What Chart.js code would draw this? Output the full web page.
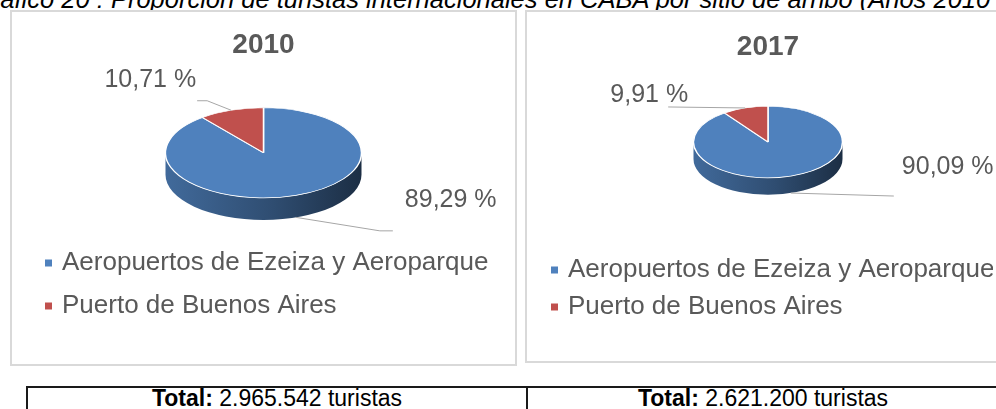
<!DOCTYPE html>
<html>
<head>
<meta charset="utf-8">
<script src="https://cdn.jsdelivr.net/npm/chart.js@4.4.1/dist/chart.umd.min.js"></script>
<style>
  body { margin: 0; width: 996px; height: 409px; overflow: hidden; background: #fff; position: relative;
         font-family: "Liberation Sans", Arial, sans-serif; }
  .caption { position: absolute; left: -28px; top: -13px; font-size: 25.5px; line-height: 25px;
             font-style: italic; color: #000; white-space: nowrap; }
  .panel { position: absolute; top: 10px; border: 2px solid #d9d9d9; box-sizing: border-box; background: #fff; }
  #p2010 { left: 10px; width: 507px; height: 356px; }
  #p2017 { left: 525px; width: 486px; height: 353px; }
  .panel canvas { display: block; }
  .totals { position: absolute; left: 26px; top: 386px; }
  .cell { position: absolute; top: 0; height: 40px; box-sizing: border-box; border-top: 2px solid #1a1a1a;
          border-left: 2px solid #1a1a1a; text-align: center; font-size: 23px; line-height: 20px; color: #000;
          white-space: nowrap; }
</style>
</head>
<body>
<div class="caption">Gráfico 20 : Proporción de turistas internacionales en CABA por sitio de arribo (Años 2010 - 2017)</div>

<div class="panel" id="p2010"><canvas id="c2010" width="503" height="352"></canvas></div>
<div class="panel" id="p2017"><canvas id="c2017" width="482" height="349"></canvas></div>

<div class="totals">
  <div class="cell" id="t2010" style="left:0;width:500px"></div>
  <div class="cell" id="t2017" style="left:500px;width:472px"></div>
</div>

<script>
const categories = ["Aeropuertos de Ezeiza y Aeroparque", "Puerto de Buenos Aires"]
const years = ["2010", "2017"]
const share2010 = [89.29, 10.71]
const share2017 = [90.09, 9.91]
const totals = ["2.965.542", "2.621.200"]
const sliceColors = ["#4f81bd", "#c0504d"]

const textGray = "#595959"
const fontFamily = "'Liberation Sans', Arial, sans-serif"

// darken a hex colour by a factor
const shade = (hex, f) => {
  const n = parseInt(hex.slice(1), 16)
  const r = Math.round(((n >> 16) & 255) * f)
  const g = Math.round(((n >> 8) & 255) * f)
  const b = Math.round((n & 255) * f)
  return `rgb(${r}, ${g}, ${b})`
}

const fmt = (v) => v.toFixed(2).replace(".", ",") + " %"

// fake 3D: squash the pie vertically and draw an extruded wall under the front half
const pie3d = {
  id: "pie3d",
  beforeDatasetsDraw(chart, args, opts) {
    const arcs = chart.getDatasetMeta(0).data
    if (!arcs.length) return
    const ctx = chart.ctx
    const { x, y, outerRadius } = arcs[0]
    const cy = y + opts.lift
    const ry = outerRadius * opts.tilt

    arcs.forEach((arc) => {
      const color = arc.options.backgroundColor
      for (let k = -1; k <= 1; k++) {
        const a0 = Math.max(arc.startAngle, 2 * Math.PI * k)
        const a1 = Math.min(arc.endAngle, 2 * Math.PI * k + Math.PI)
        if (a1 <= a0) continue
        const grad = ctx.createLinearGradient(x - outerRadius, 0, x + outerRadius, 0)
        grad.addColorStop(0, shade(color, 0.82))
        grad.addColorStop(0.55, shade(color, 0.6))
        grad.addColorStop(1, shade(color, 0.36))
        ctx.beginPath()
        ctx.ellipse(x, cy, outerRadius, ry, 0, a0, a1)
        ctx.ellipse(x, cy + opts.depth, outerRadius, ry, 0, a1, a0, true)
        ctx.closePath()
        ctx.fillStyle = grad
        ctx.fill()
      }
    })

    ctx.save()
    ctx.translate(x, cy)
    ctx.scale(1, opts.tilt)
    ctx.translate(-x, -y)
  },
  afterDatasetsDraw(chart, args, opts) {
    const arcs = chart.getDatasetMeta(0).data
    if (!arcs.length) return
    const ctx = chart.ctx
    ctx.restore()

    const values = chart.data.datasets[0].data
    const { x, y, outerRadius } = arcs[0]
    const cy = y + opts.lift
    const ry = outerRadius * opts.tilt

    arcs.forEach((arc, i) => {
      const lead = opts.leaders[i]
      const mid = (arc.startAngle + arc.endAngle) / 2
      const ax = x + outerRadius * Math.cos(mid)
      let ay = cy + ry * Math.sin(mid)
      if (Math.sin(mid) > 0) ay += opts.depth

      ctx.save()
      ctx.strokeStyle = "#a6a6a6"
      ctx.lineWidth = 1
      ctx.beginPath()
      ctx.moveTo(ax, ay)
      lead.path.forEach(([dx, dy]) => ctx.lineTo(ax + dx, ay + dy))
      ctx.stroke()

      const [ex, ey] = lead.path[lead.path.length - 1]
      ctx.fillStyle = textGray
      ctx.font = `25px ${fontFamily}`
      ctx.textAlign = lead.align
      ctx.textBaseline = "middle"
      ctx.fillText(fmt(values[i]), ax + ex + lead.text[0], ay + ey + lead.text[1])
      ctx.restore()
    })
  },
}

const makePie = (id, year, values, look) => {
  const ctx = document.getElementById(id).getContext("2d")
  return new Chart(ctx, {
    type: "pie",
    data: {
      labels: categories,
      datasets: [
        {
          data: values,
          backgroundColor: sliceColors,
          borderColor: "#ffffff",
          borderWidth: 1.5,
          radius: look.radius,
        },
      ],
    },
    options: {
      responsive: false,
      animation: false,
      events: [],
      layout: { padding: look.padding },
      plugins: {
        title: {
          display: true,
          text: year,
          color: textGray,
          font: { family: fontFamily, size: 28, weight: "bold" },
          padding: look.titlePad,
        },
        legend: {
          position: "bottom",
          align: "start",
          labels: {
            color: textGray,
            font: { family: fontFamily, size: 26 },
            usePointStyle: true,
            pointStyle: "rect",
            boxWidth: 1,
            boxHeight: 7,
            padding: look.legendPad,
            generateLabels: (chart) =>
              Chart.overrides.doughnut.plugins.legend.labels
                .generateLabels(chart)
                .map((item) => ({ ...item, lineWidth: 0 })),
          },
        },
        tooltip: { enabled: false },
        pie3d: {
          tilt: look.tilt,
          depth: look.depth,
          lift: look.lift,
          leaders: look.leaders,
        },
      },
    },
    plugins: [pie3d],
  })
}

makePie("c2010", years[0], share2010, {
  radius: 98,
  tilt: 0.46,
  depth: 22,
  lift: 0,
  padding: { left: 19, right: 19, bottom: 35 },
  titlePad: { top: 16, bottom: 11 },
  legendPad: 17,
  leaders: [
    { path: [[84, 13.5], [97, 13.5]], text: [12, -31], align: "left" },
    { path: [[-24, -9.5], [-34, -9.5]], text: [-1, -21], align: "right" },
  ],
})

makePie("c2017", years[1], share2017, {
  radius: 74.5,
  tilt: 0.48,
  depth: 17,
  lift: -12.8,
  padding: { left: 16, right: 16, bottom: 31 },
  titlePad: { top: 18, bottom: 0 },
  legendPad: 11,
  leaders: [
    { path: [[103, 3]], text: [8, -29], align: "left" },
    { path: [[-77, -1]], text: [20, -12], align: "right" },
  ],
})

document.getElementById("t2010").innerHTML = `<b>Total:</b> ${totals[0]} turistas`
document.getElementById("t2017").innerHTML = `<b>Total:</b> ${totals[1]} turistas`
</script>
</body>
</html>
